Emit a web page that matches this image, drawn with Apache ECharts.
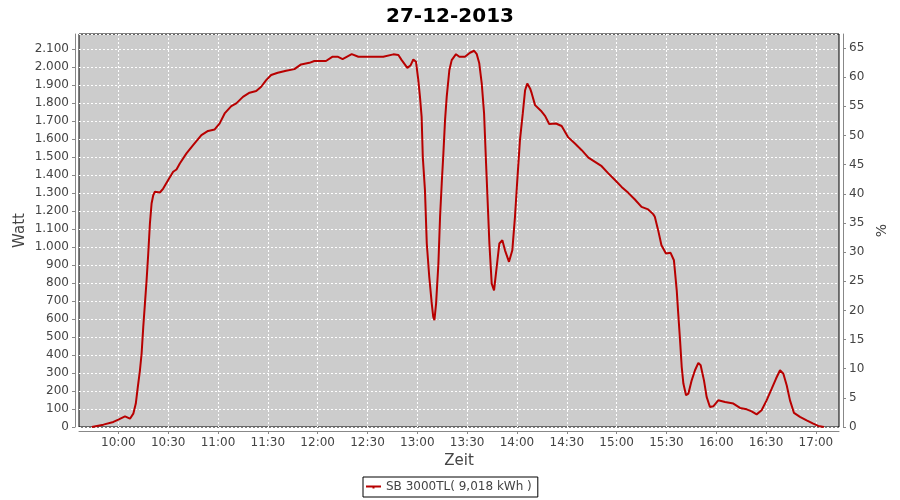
<!DOCTYPE html>
<html><head><meta charset="utf-8">
<script src="https://cdn.jsdelivr.net/npm/echarts@6/dist/echarts.min.js"></script>
<style>html,body{margin:0;padding:0;background:#fff}#c{width:900px;height:500px}</style>
</head><body><div id="c"></div>
<script>
const chartTitle = '27-12-2013';
const seriesName = 'SB 3000TL( 9,018 kWh )';
const xAxisName = 'Zeit';
const yAxisName = 'Watt';
const y2AxisName = '%';
// time in minutes since midnight
const timeMin = [584,591,597,600,604,607,609,610.5,611.7,613,614,615,616,617,618,619,620,621,622,623,625,627,628,630,631,633,635,637,641,645,650,654,658,661,664,668,671,675,679,683,686,689,692,696,701,706,710,715,718,725,729,732,735,740.5,744.5,759.5,765.6,768.6,770.6,774,776,777.6,779.2,780.6,781.6,782.6,783.3,784.6,785.7,787.2,788.7,789.6,790.3,791.3,792.7,793.7,794.7,795.7,796.7,797.7,799.3,800.7,803.3,805.3,808.7,811.7,814.2,815.8,817.3,818.8,820.2,821.4,822.4,823.4,824.8,826.2,827.8,829.4,831.2,832.8,835.2,837.2,838.8,840.2,841.8,843.5,844.9,846.2,847.9,848.9,850.9,854.4,857,859.4,863.5,866.9,870.9,874.9,879,883,887,891,895,899,903,907,911,915,919,922,923,924,925,927,929.7,932.5,934.5,936.2,937.1,938.2,939.2,940.2,941.8,943.2,945.2,947.2,949.2,950.6,952.6,954.2,956.2,958.2,961.2,965.3,970.3,974.3,978.3,981.3,984.3,987.3,990.3,993.4,996,998.4,1000.4,1002.4,1004.4,1006.8,1010.4,1014.4,1018.4,1021.4,1024.8];
const watt = [0,13,28,41,59,46,74,130,222,315,408,556,685,815,963,1130,1241,1287,1306,1311,1302,1324,1333,1371,1380,1417,1430,1463,1519,1565,1621,1644,1652,1686,1741,1782,1797,1833,1856,1865,1889,1926,1954,1967,1978,1987,2013,2022,2032,2032,2056,2056,2043,2070,2056,2056,2069,2065,2037,1994,2009,2041,2028,1926,1833,1722,1500,1315,1019,833,685,611,593,685,908,1167,1352,1519,1704,1833,1982,2037,2070,2056,2056,2078,2089,2070,2019,1907,1741,1463,1241,1019,796,759,889,1019,1037,981,917,981,1167,1371,1593,1741,1870,1907,1880,1852,1787,1756,1726,1682,1685,1671,1608,1574,1537,1496,1472,1448,1408,1371,1333,1300,1263,1222,1208,1182,1167,1130,1093,1009,963,967,926,759,630,481,333,241,176,185,259,315,356,343,259,167,111,115,148,139,130,106,98,87,70,93,148,213,269,315,296,232,148,78,56,37,19,6,0];
const xTickLabels = ['10:00','10:30','11:00','11:30','12:00','12:30','13:00','13:30','14:00','14:30','15:00','15:30','16:00','16:30','17:00'];
const xRange = [576.3, 1033.9];
const wattRange = [0, 2182];
const pctRange = [0, 67.4];

const FONT = 'DejaVu Sans';
const toMin = s => { const p = s.split(':'); return +p[0]*60 + +p[1]; };
const xTickVals = xTickLabels.map(toMin);
const fmtDE = v => String(Math.round(v)).replace(/\B(?=(\d{3})+(?!\d))/g, '.');
const labelOf = v => { const i = xTickVals.indexOf(v); return i >= 0 ? xTickLabels[i] : ''; };

const chart = echarts.init(document.getElementById('c'), null, {renderer:'canvas'});
chart.setOption({
  animation: false,
  backgroundColor: '#fff',
  title: { text: chartTitle, left: 'center', top: 2,
    textStyle: { fontFamily: FONT, fontSize: 20, fontWeight: 'bold', color: '#000' } },
  legend: {
    data: [{ name: seriesName, icon: 'path://M0,4H30V8H0Z M13,8H17V10H13Z' }],
    left: 363, top: 477, orient: 'horizontal',
    borderColor: '#000', borderWidth: 1, padding: [3, 6, 3, 3],
    itemWidth: 15, itemHeight: 5,
    textStyle: { fontFamily: FONT, fontSize: 12, color: '#444', lineHeight: 14 }
  },
  grid: { left: 79, right: 61, top: 34, bottom: 73, show: true,
    backgroundColor: '#cccccc', borderColor: '#000', borderWidth: 1, containLabel: false },
  xAxis: {
    type: 'value', min: xRange[0], max: xRange[1], offset: 4,
    name: xAxisName, nameLocation: 'middle', nameGap: 21,
    nameTextStyle: { fontFamily: FONT, fontSize: 15, color: '#444' },
    axisLine: { show: true, onZero: false, lineStyle: { color: '#888' } },
    axisTick: { show: true, length: 3, customValues: xTickVals, lineStyle: { color: '#888' } },
    axisLabel: { customValues: xTickVals, formatter: labelOf, margin: 6,
      fontFamily: FONT, fontSize: 12, color: '#444' },
    splitLine: { show: true, lineStyle: { color: '#fff', width: 1, type: [2, 2] } }
  },
  yAxis: [{
    type: 'value', min: wattRange[0], max: wattRange[1], interval: 100, offset: 4, position: 'left',
    name: yAxisName, nameLocation: 'middle', nameGap: 47, nameMoveOverlap: false,
    nameTextStyle: { fontFamily: FONT, fontSize: 15, color: '#444' },
    axisLine: { show: true, lineStyle: { color: '#888' } },
    axisTick: { show: true, length: 3, lineStyle: { color: '#888' } },
    axisLabel: { formatter: fmtDE, margin: 6, fontFamily: FONT, fontSize: 12, color: '#444',
      showMaxLabel: false },
    splitLine: { show: true, lineStyle: { color: '#fff', width: 1, type: [2, 2] } }
  }, {
    type: 'value', min: pctRange[0], max: pctRange[1], interval: 5, offset: 4, position: 'right',
    name: y2AxisName, nameLocation: 'middle', nameGap: 22,
    nameTextStyle: { fontFamily: FONT, fontSize: 14, color: '#444' },
    axisLine: { show: true, lineStyle: { color: '#888' } },
    axisTick: { show: true, length: 3, lineStyle: { color: '#888' } },
    axisLabel: { margin: 6, fontFamily: FONT, fontSize: 12, color: '#444', showMaxLabel: false },
    splitLine: { show: false }
  }],
  series: [{
    name: seriesName, type: 'line', yAxisIndex: 0,
    data: timeMin.map((t, i) => [t, watt[i]]),
    showSymbol: false, symbol: 'rect', symbolSize: 4,
    lineStyle: { color: '#b80000', width: 2 }, itemStyle: { color: '#b80000' },
    clip: true
  }]
});
</script>
</body></html>
